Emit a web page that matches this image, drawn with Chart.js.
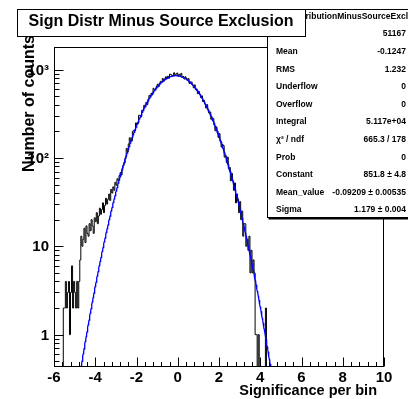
<!DOCTYPE html>
<html><head><meta charset="utf-8">
<script src="https://cdn.jsdelivr.net/npm/chart.js@4.4.1/dist/chart.umd.min.js"></script>
<style>html,body{margin:0;padding:0;background:#fff;overflow:hidden}#wrap{width:408px;height:399px;position:relative}</style>
</head><body><div id="wrap"><canvas id="c" width="408" height="399"></canvas></div>
<script>
// ---------- data ----------
const chartTitle = "Sign Distr Minus Source Exclusion";
const histName = "SignificanceDistributionMinusSourceExclusion";
const xTitle = "Significance per bin";
const yTitle = "Number of counts";
const xRange = [-6, 10];
const yRange = [0.43, 1800];
const xTickValues = [-6, -4, -2, 0, 2, 4, 6, 8, 10];
const xTickLabels = ["-6", "-4", "-2", "0", "2", "4", "6", "8", "10"];
const yTickValues = [1, 10, 100, 1000];
const yTickLabels = ["1", "10", "10\u00B2", "10\u00B3"];
const binStart = -5.55;
const binWidth = 0.05;
const counts = [
  2,2,4,2,3,4,1,3,6,2,
  4,3,2,4,2,4,7,13,10,12,
  16,11,17,14,13,18,15,20,17,14,
  21,19,24,18,22,27,23,26,31,24,
  29,35,30,34,39,33,44,40,47,43,
  53,49,58,55,63,68,64,77,83,88,
  101,128,117,144,169,155,156,200,205,202,
  249,240,246,304,302,291,346,349,394,378,
  425,401,461,509,492,539,520,613,582,592,
  643,682,641,702,735,719,793,739,785,828,
  796,840,797,887,878,858,846,920,857,888,
  913,839,884,851,905,816,835,782,826,797,
  757,790,696,726,720,672,622,670,592,599,
  533,567,527,482,504,436,448,408,367,401,
  354,322,330,274,284,278,235,203,224,201,
  171,188,155,133,142,138,102,106,89,102,
  76,78,55,67,55,43,52,31,39,34,
  24,32,20,25,13,18,18,10,12,9,
  13,5,9,5,7,5,1,1,0,1,
  0,0,0,0,0,0,2
];
const statsLabels = ["Entries", "Mean", "RMS", "Underflow", "Overflow", "Integral",
  "\u03C7\u00B2 / ndf", "Prob", "Constant", "Mean_value", "Sigma"];
const statsValues = ["51167", "-0.1247", "1.232", "0", "0", "5.117e+04",
  "665.3 / 178", "0", "851.8 \u00B1 4.8", "-0.09209 \u00B1 0.00535", "1.179 \u00B1 0.004"];
// Gaussian fit parameters shown in the stats box
const fitConstant = 851.8;
const fitMean = -0.09209;
const fitSigma = 1.179;
const fitFrom = -4.8, fitTo = 4.64;

// ---------- build datasets ----------
// empty bins are drawn on the axis floor, as the log-scale histogram does
const floorY = (c) => Math.max(c, yRange[0]);
const histPts = [{x: xRange[0], y: floorY(0)}];
for (let i = 0; i < counts.length; i++) histPts.push({x: +(binStart + i * binWidth).toFixed(4), y: floorY(counts[i])});
histPts.push({x: +(binStart + counts.length * binWidth).toFixed(4), y: floorY(0)});
histPts.push({x: xRange[1], y: floorY(0)});

const fitPts = [];
for (let k = 0; ; k++) {
  const xv = fitFrom + k * 0.02;
  if (xv > fitTo) break;
  const z = (xv - fitMean) / fitSigma;
  fitPts.push({x: xv, y: fitConstant * Math.exp(-0.5 * z * z)});
}

const FONT = '"Liberation Sans", Arial, Helvetica, sans-serif';

const rootPlugin = {
  id: 'rootStyle',
  afterDraw(chart) {
    const ctx = chart.ctx;
    const a = chart.chartArea;
    const xs = chart.scales.x, ys = chart.scales.y;
    ctx.save();
    ctx.strokeStyle = '#000';
    ctx.fillStyle = '#000';
    ctx.lineWidth = 1;
    const L = Math.round(a.left), R = Math.round(a.right), T = Math.round(a.top), B = Math.round(a.bottom);
    // frame
    ctx.strokeRect(L + 0.5, T + 0.5, R - L - 1, B - T - 1);
    // x ticks (major every 2, 5 subdivisions)
    ctx.beginPath();
    for (let k = 0; k <= 40; k++) {
      const v = xRange[0] + k * 0.4;
      const px = Math.round(xs.getPixelForValue(v)) + 0.5;
      const len = (k % 5 === 0) ? 9 : 4.5;
      ctx.moveTo(px, B - 0.5);
      ctx.lineTo(px, B - 0.5 - len);
    }
    // y ticks (log)
    for (let e = -1; e <= 3; e++) {
      for (let m = 1; m <= 9; m++) {
        const v = m * Math.pow(10, e);
        if (v < yRange[0] || v > yRange[1]) continue;
        const py = Math.round(ys.getPixelForValue(v)) + 0.5;
        const len = (m === 1) ? 9 : 5;
        ctx.moveTo(L + 0.5, py);
        ctx.lineTo(L + 0.5 + len, py);
      }
    }
    ctx.stroke();
    // x labels
    ctx.font = 'bold 15px ' + FONT;
    ctx.textAlign = 'center';
    ctx.textBaseline = 'alphabetic';
    xTickValues.forEach((v, i) => {
      ctx.fillText(xTickLabels[i], xs.getPixelForValue(v), 382);
    });
    // y labels
    ctx.textAlign = 'right';
    ctx.textBaseline = 'middle';
    yTickValues.forEach((v, i) => {
      ctx.fillText(yTickLabels[i], 49, ys.getPixelForValue(v) + 1);
    });
    // axis titles
    ctx.font = 'bold 14.5px ' + FONT;
    ctx.textAlign = 'right';
    ctx.textBaseline = 'alphabetic';
    ctx.fillText(xTitle, 377, 395);
    ctx.save();
    ctx.translate(33.5, 35);
    ctx.rotate(-Math.PI / 2);
    ctx.font = 'bold 16px ' + FONT;
    ctx.fillText(yTitle, 0, 0);
    ctx.restore();

    // stats box
    const sx = 267.5, sy = 9.5, sb = 217.5;
    ctx.fillStyle = '#fff';
    ctx.fillRect(sx, sy, 420 - sx, sb - sy);
    ctx.strokeRect(sx, sy, 420 - sx, sb - sy);
    ctx.fillStyle = '#000';
    ctx.fillRect(sx + 1, sb + 0.5, 420 - sx, 1.5);
    ctx.font = 'bold 8.5px ' + FONT;
    ctx.textBaseline = 'middle';
    const visible = "SignificanceDistributionMinusSourceExcl";
    ctx.textAlign = 'left';
    ctx.fillText(histName, 408 - ctx.measureText(visible).width, 17);
    for (let k = 0; k < statsLabels.length; k++) {
      const cy = 34 + 17.6 * k;
      ctx.textAlign = 'left';
      ctx.fillText(statsLabels[k], 276, cy);
      ctx.textAlign = 'right';
      ctx.fillText(statsValues[k], 406, cy);
    }
    // title box
    ctx.fillStyle = '#fff';
    ctx.fillRect(17.5, 9.5, 288, 27);
    ctx.strokeRect(17.5, 9.5, 288, 27);
    ctx.fillStyle = '#000';
    ctx.font = 'bold 16px ' + FONT;
    ctx.textAlign = 'center';
    ctx.textBaseline = 'alphabetic';
    ctx.fillText(chartTitle, 161, 25.5);
    ctx.restore();
  }
};

new Chart(document.getElementById('c').getContext('2d'), {
  type: 'line',
  data: {
    datasets: [
      {label: 'Gaussian fit', data: fitPts, borderColor: '#0000ff', borderWidth: 1.3,
       pointRadius: 0, tension: 0, fill: false, order: 1},
      {label: histName, data: histPts, borderColor: '#000000', borderWidth: 1,
       pointRadius: 0, stepped: true, fill: false, order: 2}
    ]
  },
  options: {
    responsive: false,
    animation: false,
    devicePixelRatio: 1,
    events: [],
    layout: {padding: {left: 54, top: 47, right: 24, bottom: 32}},
    plugins: {legend: {display: false}, tooltip: {enabled: false}, title: {display: false}},
    scales: {
      x: {type: 'linear', min: xRange[0], max: xRange[1], display: false},
      y: {type: 'logarithmic', min: yRange[0], max: yRange[1], display: false}
    }
  },
  plugins: [rootPlugin]
});
</script>
</body></html>
